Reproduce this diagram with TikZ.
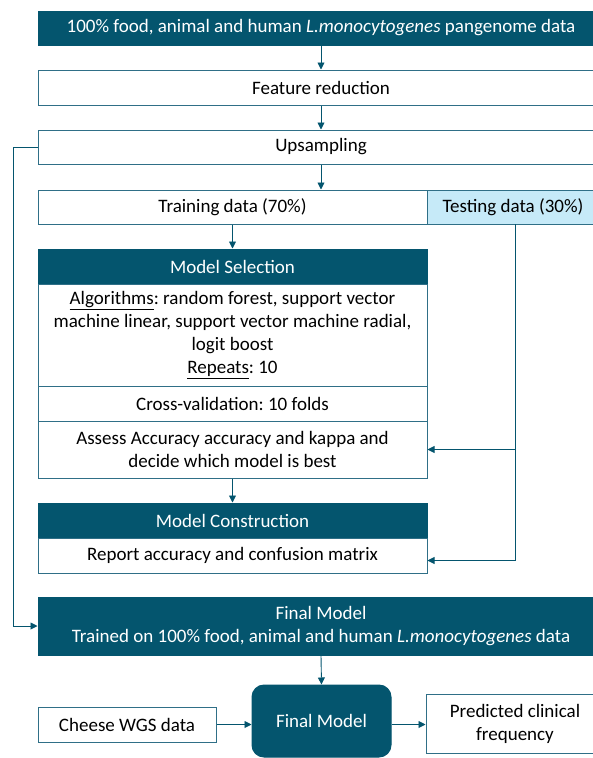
\documentclass[tikz,border=0pt]{standalone}
\usepackage{fontspec}
\setmainfont{Carlito}
\usetikzlibrary{arrows.meta,calc}
\frenchspacing
\definecolor{dark}{HTML}{04556E}
\definecolor{bordc}{HTML}{2F6F87}
\definecolor{lightb}{HTML}{C6EAF8}
\newcommand{\fs}{\fontsize{19}{23}\selectfont}
\newcommand{\ul}[1]{\underline{\smash{#1}\vphantom{g}}}
\tikzset{
  box/.style={draw=bordc, line width=1pt, fill=white, inner sep=0pt, align=center, font=\fs, text=black},
  dbox/.style={draw=dark, line width=1pt, fill=dark, inner sep=0pt, align=center, font=\fs, text=white},
  arr/.style={draw=dark, line width=0.9pt, -{Triangle[length=7pt,width=7pt]}}
}
\begin{document}
\begin{tikzpicture}[x=1pt,y=-1pt]
\useasboundingbox (0,0) rectangle (592,758);
\node[dbox, minimum width=566pt, minimum height=34pt] (top) at (321,28) {100\% food, animal and human \textit{L.monocytogenes} pangenome data};
\node[box, minimum width=566pt, minimum height=35pt] (feat) at (321,87.5) {Feature reduction};
\node[box, minimum width=566pt, minimum height=34pt] (ups) at (321,147) {Upsampling};
\node[box, minimum width=389pt, minimum height=34pt] (train) at (232.5,207) {Training data (70\%)};
\node[box, fill=lightb, minimum width=172pt, minimum height=34pt] (test) at (513,207) {Testing data (30\%)};
\node[dbox, minimum width=389pt, minimum height=35pt] (msel) at (232.5,266.5) {Model Selection};
\node[box, minimum width=389pt, minimum height=102pt] (alg) at (232.5,335) {\underline{Algorithms}: random forest, support vector\\machine linear, support vector machine radial,\\logit boost\\\underline{Repeats}: 10};
\node[box, minimum width=389pt, minimum height=35pt] (cv) at (232.5,403.5) {Cross-validation: 10 folds};
\node[box, minimum width=389pt, minimum height=57pt] (assess) at (232.5,449.5) {Assess Accuracy accuracy and kappa and\\decide which model is best};
\node[dbox, minimum width=389pt, minimum height=35pt] (mcons) at (232.5,520.5) {Model Construction};
\node[box, minimum width=389pt, minimum height=35pt] (report) at (232.5,555.5) {Report accuracy and confusion matrix};
\node[dbox, minimum width=566pt, minimum height=58pt] (final) at (321,626) {Final Model\\Trained on 100\% food, animal and human \textit{L.monocytogenes} data};
\node[dbox, rounded corners=12pt, minimum width=139pt, minimum height=72pt] (fm) at (321.5,721) {Final Model};
\node[box, minimum width=178pt, minimum height=35pt] (cheese) at (127,724.5) {Cheese WGS data};
\node[box, minimum width=178pt, minimum height=59pt] (pred) at (515,723.5) {Predicted clinical\\frequency};
\coordinate (tb) at (515,224);
\coordinate (rp) at ($(report.east)+(0,5)$);
\draw[arr] (top.south) -- (feat.north);
\draw[arr] (feat.south) -- (ups.north);
\draw[arr] (ups.south) -- (ups.south |- train.north);
\draw[arr] (train.south) -- (msel.north);
\draw[arr] (assess.south) -- (mcons.north);
\draw[arr] (ups.west) -- ++(-24,0) |- (final.west);
\draw[arr] (tb) |- (assess.east);
\draw[arr] (tb) |- (rp);
\draw[arr] (final.south) -- (fm.north);
\draw[arr] (cheese.east) -- (cheese.east -| fm.west);
\draw[arr] (fm.east |- cheese.east) -- (pred.west |- cheese.east);
\end{tikzpicture}
\end{document}
